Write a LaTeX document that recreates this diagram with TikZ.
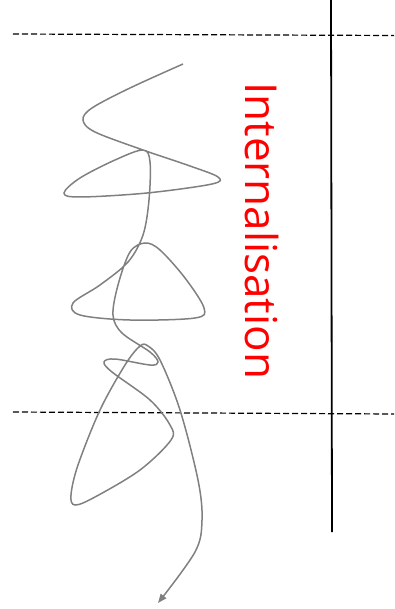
\documentclass[tikz,border=0pt]{standalone}
\usepackage{fontspec}
\newfontfamily\labelfont{Open Sans}
\usetikzlibrary{arrows.meta}
\tikzset{
  sepline/.style={draw=black, line width=1.2pt, dash pattern=on 6pt off 3pt},
  axisline/.style={draw=black, line width=1.8pt},
  scribble/.style={draw={rgb,255:red,128;green,128;blue,128}, line width=1.5pt, -{Triangle[length=9pt,width=7pt]}},
  lbl/.style={text=red, font=\labelfont\fontsize{44}{48}\selectfont, inner sep=0pt, rotate=-90, anchor=base west}
}
\begin{document}
\begin{tikzpicture}[x=1pt,y=-1pt]
\useasboundingbox (0,0) rectangle (394,609);
\coordinate (t1) at (13,34);
\coordinate (t2) at (394,35.5);
\coordinate (b1) at (13,412);
\coordinate (b2) at (394,414);
\coordinate (v1) at (331,0);
\coordinate (v2) at (332,532);
\draw[sepline] (t1) -- (t2);
\draw[sepline] (b1) -- (b2);
\draw[axisline] (v1) -- (v2);
\node[lbl] (lab) at (245,82) {Internalisation};
\draw[scribble] plot[smooth, tension=0.55] coordinates {
(183,64) (130,88) (92,108) (83,120) (95,132) (143,150) (190,166) (218,177) (212,184) (147,193) (80,197) (64,193) (80,178) (115,160) (143,150) (150,162) (149,200) (143,235) (128,262) (100,285) (73,303) (80,315) (130,320) (195,318) (204,308) (185,278) (160,250) (145,243) (130,252) (118,285) (113,315) (122,333) (150,352) (158,362) (150,365) (115,359) (104,362) (112,372) (150,400) (170,425) (171,440) (140,470) (95,497) (75,505) (71,495) (78,465) (100,410) (125,365) (140,346) (148,346) (160,360) (180,410) (198,480) (202,520) (195,552) (158,603)};
\end{tikzpicture}
\end{document}
